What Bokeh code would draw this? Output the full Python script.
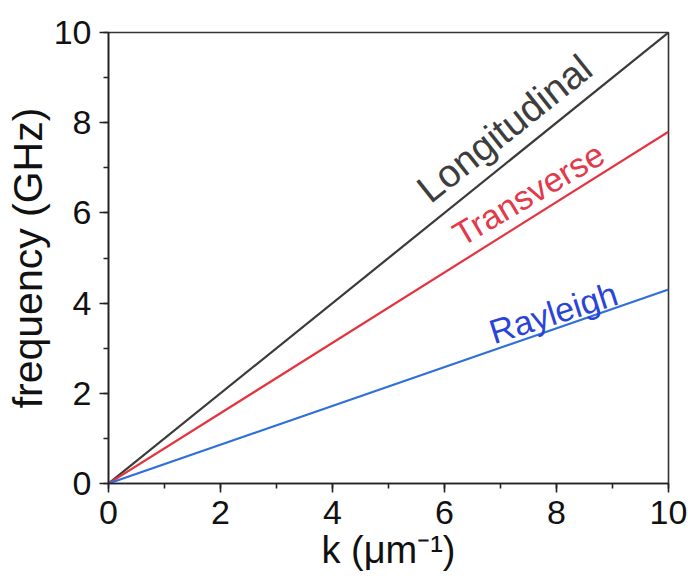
from bokeh.plotting import figure
from bokeh.models import Range1d, SingleIntervalTicker
from bokeh.core.properties import value
from bokeh.embed import file_html
from bokeh.resources import INLINE

# data
k = [0, 10]
longitudinal = [0, 10.0]
transverse = [0, 7.8]
rayleigh = [0, 4.3]

label_text = ["Longitudinal", "Transverse", "Rayleigh"]
label_x = [5.6, 6.2, 6.82]
label_y = [6.42, 5.47, 3.34]
label_angle = [38.5, 30.5, 17.8]

label_colors = ["#3d3d3d", "#e3394a", "#2b44d8"]
line_colors = ["#3a3a3a", "#e5333f", "#2f6fd9"]
label_sizes = ["39px", "34px", "34px"]

FONT = "Liberation Sans"

p = figure(width=688, height=576, output_backend="svg", toolbar_location=None,
           x_range=Range1d(0, 10), y_range=Range1d(0, 10),
           min_border_left=108, min_border_right=20, min_border_top=32, min_border_bottom=93)
p.grid.visible = False
p.background_fill_color = "white"
p.border_fill_color = "white"
p.outline_line_color = "#333333"
p.outline_line_width = 1.6

for ax in (p.xaxis[0], p.yaxis[0]):
    ax.ticker = SingleIntervalTicker(interval=2, num_minor_ticks=2)
    ax.axis_line_color = "#222222"
    ax.axis_line_width = 1.6
    ax.major_tick_line_color = "#222222"
    ax.major_tick_line_width = 1.6
    ax.minor_tick_line_color = "#222222"
    ax.minor_tick_line_width = 1.6
    ax.major_tick_out = 9
    ax.major_tick_in = 0
    ax.minor_tick_out = 5
    ax.minor_tick_in = 0
    ax.major_label_text_font = FONT
    ax.major_label_text_font_size = "34px"
    ax.major_label_text_color = "#111111"
    ax.axis_label_text_font = FONT
    ax.axis_label_text_font_style = "normal"
    ax.axis_label_text_color = "#111111"

p.xaxis.axis_label = "k (μm⁻¹)"
p.yaxis.axis_label = "frequency (GHz)"
p.xaxis.axis_label_text_font_size = "38px"
p.yaxis.axis_label_text_font_size = "41px"
p.xaxis.major_label_standoff = 8
p.yaxis.major_label_standoff = 8
p.xaxis.axis_label_standoff = 2
p.yaxis.axis_label_standoff = 0

p.line(k, longitudinal, line_color=line_colors[0], line_width=2.2)
p.line(k, transverse, line_color=line_colors[1], line_width=2.2)
p.line(k, rayleigh, line_color=line_colors[2], line_width=2.2)

for i in range(3):
    p.text(x=[label_x[i]], y=[label_y[i]], text=[label_text[i]], angle=label_angle[i],
           angle_units="deg", text_color=label_colors[i], text_font=value(FONT),
           text_font_size=label_sizes[i], text_align="left", text_baseline="alphabetic")

open("out.html", "w").write(file_html(p, INLINE))
